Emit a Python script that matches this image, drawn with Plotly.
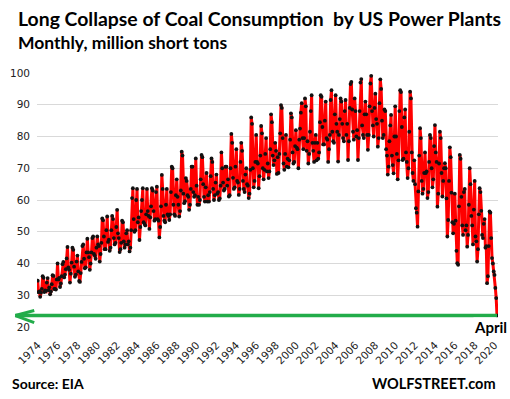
import plotly.graph_objects as go

# Monthly coal consumption by US power plants, million short tons
coal_1970s = [  # 1974-1979
    34.6, 31.0, 31.2, 29.5, 30.8, 32.0, 36.0, 35.5, 31.0, 31.5, 31.3, 34.0,
    35.4, 31.6, 32.5, 30.3, 31.2, 33.5, 36.3, 36.1, 32.0, 32.0, 31.8, 35.0,
    40.0, 35.0, 35.5, 32.6, 33.7, 36.0, 39.8, 40.5, 35.6, 36.5, 38.2, 41.6,
    45.2, 38.8, 38.0, 34.0, 36.8, 40.3, 45.0, 44.3, 39.0, 35.8, 36.5, 40.6,
    42.5, 37.5, 34.5, 34.2, 37.0, 40.5, 45.5, 46.0, 41.5, 38.5, 38.8, 43.5,
    47.8, 43.5, 42.0, 38.0, 40.0, 43.5, 48.0, 48.5, 43.0, 42.5, 41.5, 45.0,
]
coal_1980s = [  # 1980-1989
    48.5, 46.0, 45.5, 40.6, 43.0, 46.5, 54.2, 53.6, 48.5, 44.5, 44.5, 50.5,
    54.8, 46.8, 47.5, 44.0, 45.0, 50.5, 55.0, 54.0, 48.0, 46.0, 46.5, 51.5,
    56.9, 49.5, 48.0, 43.6, 44.5, 46.5, 53.5, 53.0, 47.0, 45.0, 46.0, 49.5,
    50.5, 46.0, 47.0, 43.8, 45.0, 50.5, 60.6, 63.7, 54.0, 50.0, 50.5, 60.0,
    63.5, 53.0, 54.5, 47.4, 51.5, 56.5, 60.0, 63.7, 53.0, 52.5, 52.0, 55.5,
    63.5, 56.5, 55.0, 50.9, 54.5, 58.0, 63.7, 63.0, 56.5, 53.5, 54.0, 62.5,
    64.2, 54.0, 53.5, 48.2, 51.5, 58.0, 67.9, 63.5, 55.0, 53.5, 53.0, 58.5,
    63.5, 55.5, 55.0, 53.7, 55.5, 62.5, 70.5, 70.0, 58.5, 55.5, 55.0, 61.5,
    66.5, 61.0, 58.5, 54.8, 56.5, 63.0, 75.2, 74.0, 62.0, 59.0, 59.6, 66.9,
    66.0, 61.5, 61.0, 56.9, 58.5, 63.5, 70.5, 70.5, 62.5, 61.0, 61.5, 73.1,
]
coal_1990s = [  # 1990-1999
    64.5, 58.5, 61.0, 58.5, 60.0, 66.5, 74.2, 73.5, 65.0, 61.0, 59.5, 64.0,
    68.5, 59.5, 61.5, 59.5, 62.5, 67.5, 73.1, 72.0, 63.5, 60.0, 61.5, 65.5,
    68.0, 62.0, 62.5, 60.0, 60.5, 64.5, 75.0, 70.0, 65.5, 63.0, 63.5, 70.5,
    70.5, 64.5, 66.5, 61.1, 61.5, 70.0, 80.8, 78.0, 67.0, 63.5, 64.0, 70.5,
    76.0, 66.0, 65.5, 61.6, 63.5, 72.0, 78.0, 75.5, 66.0, 63.5, 62.5, 68.0,
    70.0, 65.0, 64.5, 60.6, 62.0, 69.5, 86.0, 84.0, 70.0, 64.0, 66.0, 72.0,
    80.5, 72.0, 71.5, 63.7, 67.5, 74.0, 83.3, 81.0, 70.0, 66.5, 69.5, 74.5,
    79.5, 69.0, 71.5, 66.9, 69.0, 76.0, 87.0, 84.5, 74.0, 71.0, 72.5, 78.0,
    75.5, 68.2, 73.5, 68.5, 74.5, 81.0, 89.9, 89.0, 79.5, 71.5, 69.5, 74.5,
    80.5, 70.5, 73.0, 70.3, 72.5, 79.0, 87.3, 86.0, 75.0, 71.5, 72.0, 77.0,
]
coal_2000s = [  # 2000-2009
    82.0, 76.5, 76.0, 70.0, 79.0, 82.5, 87.5, 90.5, 79.5, 76.0, 79.5, 92.0,
    89.5, 75.5, 78.5, 71.5, 74.5, 81.5, 88.0, 93.0, 78.0, 75.5, 72.0, 78.0,
    80.5, 72.5, 78.0, 73.0, 75.0, 84.5, 93.0, 92.5, 83.0, 77.5, 77.5, 85.0,
    91.0, 79.5, 79.0, 72.0, 76.0, 80.5, 91.5, 94.6, 81.5, 78.5, 78.0, 87.0,
    93.0, 84.0, 81.5, 72.1, 80.5, 85.5, 92.0, 91.0, 84.0, 79.5, 78.5, 88.0,
    91.5, 80.5, 84.0, 72.6, 78.5, 89.0, 96.5, 97.2, 88.5, 81.5, 79.0, 92.0,
    88.0, 80.0, 82.0, 72.6, 79.5, 88.0, 97.0, 98.1, 83.5, 80.5, 79.5, 87.0,
    91.0, 87.0, 80.5, 75.8, 80.5, 89.5, 96.7, 99.1, 88.0, 83.5, 80.0, 89.0,
    93.5, 85.5, 84.0, 76.8, 79.5, 90.5, 98.0, 95.0, 85.0, 79.5, 80.5, 88.5,
    88.0, 76.0, 74.0, 68.0, 70.5, 78.5, 83.5, 86.8, 74.0, 71.0, 68.4, 80.0,
]
coal_2010s = [  # 2010-2019
    89.5, 80.0, 74.5, 66.5, 72.5, 88.0, 94.6, 94.0, 83.0, 72.6, 73.0, 86.0,
    88.5, 75.0, 72.0, 66.9, 70.0, 81.5, 94.1, 92.0, 75.0, 68.5, 66.0, 72.5,
    65.0, 57.4, 56.0, 51.6, 62.7, 74.0, 82.6, 79.5, 66.0, 62.0, 63.5, 68.5,
    75.0, 68.5, 69.0, 60.6, 62.5, 72.0, 80.5, 79.5, 70.0, 64.0, 66.5, 77.0,
    83.6, 75.0, 72.0, 57.9, 62.0, 71.5, 81.5, 79.5, 68.5, 61.1, 66.0, 70.0,
    71.6, 70.0, 60.5, 48.5, 53.7, 66.0, 76.6, 73.5, 62.3, 53.0, 49.5, 52.5,
    62.0, 53.5, 44.0, 40.1, 39.6, 58.0, 74.2, 73.0, 61.0, 52.0, 49.0, 62.5,
    63.5, 50.5, 52.0, 45.3, 49.0, 58.5, 70.0, 65.0, 55.0, 52.0, 46.0, 57.0,
    66.0, 48.5, 47.0, 40.6, 44.5, 55.5, 63.7, 62.5, 56.6, 49.0, 48.0, 52.5,
    54.0, 45.0, 45.5, 33.8, 36.0, 45.5, 56.4, 56.0, 48.0, 41.7, 40.0, 37.5,
]
coal_2020 = [36.4, 32.3, 29.1, 23.6]  # Jan-Apr 2020

start_year = 1974
tick_years = list(range(1974, 2021, 2))
tick_labels = [str(y) for y in tick_years]
y_ticks = [20, 30, 40, 50, 60, 70, 80, 90, 100]

values = coal_1970s + coal_1980s + coal_1990s + coal_2000s + coal_2010s + coal_2020
x_vals = [start_year + i / 12 for i in range(len(values))]

x0, x1 = 1973.93, 2020.35
last_x, last_y = x_vals[-1], values[-1]
last_paper = (last_x - x0) / (x1 - x0)

fig = go.Figure()
fig.add_trace(go.Scatter(
    x=x_vals, y=values, mode="lines+markers",
    line=dict(color="#FF0000", width=3),
    marker=dict(color="#111111", size=3.8),
    hoverinfo="skip", showlegend=False,
))

green = "#22AC4A"
tip = -0.047
arm = -0.006
fig.add_shape(type="line", xref="paper", yref="y", x0=tip, x1=last_paper,
              y0=last_y, y1=last_y, line=dict(color=green, width=3.5))
fig.add_shape(type="line", xref="paper", yref="y", x0=tip, x1=arm,
              y0=last_y, y1=last_y + 1.6, line=dict(color=green, width=3))
fig.add_shape(type="line", xref="paper", yref="y", x0=tip, x1=arm,
              y0=last_y, y1=last_y - 2.2, line=dict(color=green, width=3))

tick_font = dict(family="DejaVu Sans", size=10.5, color="#222222")
fig.update_layout(
    width=510, height=399,
    margin=dict(l=35, r=10, t=73, b=72),
    paper_bgcolor="white", plot_bgcolor="white",
    xaxis=dict(range=[x0, x1], tickmode="array", tickvals=tick_years,
               ticktext=tick_labels, tickangle=-45, showgrid=False,
               zeroline=False, showline=False, tickfont=tick_font,
               ticks="outside", ticklen=7, tickcolor="rgba(0,0,0,0)",
               fixedrange=True),
    yaxis=dict(range=[20, 100], tickmode="array", tickvals=y_ticks,
               showgrid=True, gridcolor="#D9D9D9", gridwidth=1,
               zeroline=False, showline=False, tickfont=tick_font,
               ticklabelstandoff=6, fixedrange=True),
    font=dict(family="Lato"),
)

fig.add_annotation(text="<b>Long Collapse of Coal Consumption  by US Power Plants</b>",
                   xref="paper", yref="paper", x=-0.045, y=1.0, yshift=55,
                   xanchor="left", yanchor="middle", showarrow=False,
                   font=dict(family="Lato", size=19.4, color="#000000"))
fig.add_annotation(text="<b>Monthly, million short tons</b>",
                   xref="paper", yref="paper", x=-0.045, y=1.0, yshift=31,
                   xanchor="left", yanchor="middle", showarrow=False,
                   font=dict(family="Lato", size=17.5, color="#000000"))
fig.add_annotation(text="<b>April</b>", xref="paper", yref="y",
                   x=1.022, y=20, xanchor="right", yanchor="middle",
                   showarrow=False, bgcolor="white", borderpad=0,
                   font=dict(family="Lato", size=15, color="#000000"))
fig.add_annotation(text="<b>Source: EIA</b>", xref="paper", yref="paper",
                   x=-0.058, y=0, yshift=-56, xanchor="left", yanchor="middle",
                   showarrow=False, font=dict(family="Lato", size=14, color="#000000"))
fig.add_annotation(text="<b>WOLFSTREET.com</b>", xref="paper", yref="paper",
                   x=1.0, y=0, yshift=-56, xanchor="right", yanchor="middle",
                   showarrow=False, font=dict(family="Lato", size=14.5, color="#000000"))

fig.write_html("out.html", config={"displayModeBar": False},
               post_script="document.body.style.margin='0';document.body.style.overflow='hidden';")
